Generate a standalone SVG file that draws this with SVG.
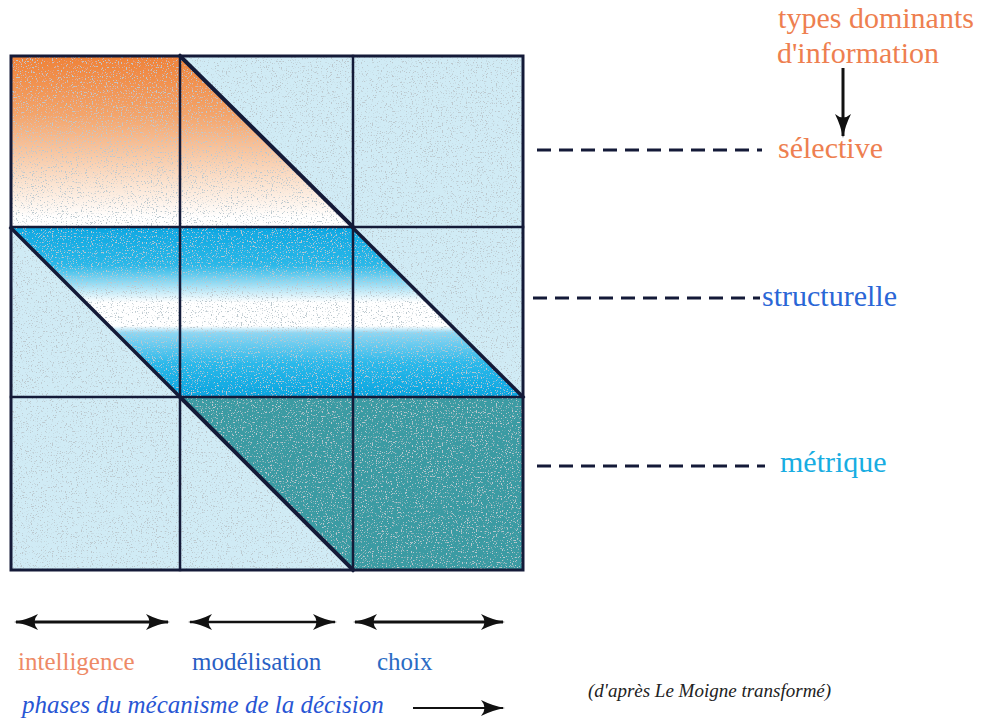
<svg xmlns="http://www.w3.org/2000/svg" width="989" height="724" viewBox="0 0 989 724">
<defs>
<linearGradient id="gOrange" x1="0" y1="56" x2="0" y2="226" gradientUnits="userSpaceOnUse">
<stop offset="0" stop-color="#ef8238"/>
<stop offset="0.35" stop-color="#f3a56c"/>
<stop offset="0.75" stop-color="#fbe3d0"/>
<stop offset="0.95" stop-color="#ffffff"/>
</linearGradient>
<linearGradient id="gBlue" x1="0" y1="228" x2="0" y2="397" gradientUnits="userSpaceOnUse">
<stop offset="0" stop-color="#0ea8e2"/>
<stop offset="0.22" stop-color="#2bb8e8"/>
<stop offset="0.38" stop-color="#c9ecf8"/>
<stop offset="0.44" stop-color="#ffffff"/>
<stop offset="0.58" stop-color="#ffffff"/>
<stop offset="0.62" stop-color="#8fd6f2"/>
<stop offset="0.8" stop-color="#2cb9ea"/>
<stop offset="1" stop-color="#07a5e0"/>
</linearGradient>
<filter id="grain" x="0" y="0" width="100%" height="100%">
<feTurbulence type="fractalNoise" baseFrequency="0.8" numOctaves="2" seed="7" result="n"/>
<feColorMatrix in="n" type="matrix" values="0 0 0 0 0.5  0 0 0 0 0.58  0 0 0 0 0.62  0 0 0 -9 3.5" result="dots"/>
<feComposite in="dots" in2="SourceGraphic" operator="in" result="d2"/>
<feMerge><feMergeNode in="SourceGraphic"/><feMergeNode in="d2"/></feMerge>
</filter>
<marker id="ah" viewBox="0 0 24 16" refX="22" refY="8" markerWidth="24" markerHeight="16" markerUnits="userSpaceOnUse" orient="auto-start-reverse">
<path d="M0,0 Q12,6 24,8 Q12,10 0,16 Q7,8 0,0 Z" fill="#111"/>
</marker>
<style>
.grid{stroke:#141a38;fill:none;stroke-linecap:square}
.dash{stroke:#141a38;stroke-width:3;stroke-dasharray:14 8;fill:none}
.light{fill:#d0ebf5}
.teal{fill:#3a9ba3}
text{font-family:Liberation Serif, DejaVu Serif, serif}
</style>
</defs>
<rect width="989" height="724" fill="#ffffff"/>

<g id="grid-fills" filter="url(#grain)">
<rect class="light" x="11" y="56" width="512" height="514"/>
<rect x="11" y="56" width="169" height="171" fill="url(#gOrange)"/>
<polygon points="180,56 353,227 180,227" fill="url(#gOrange)"/>
<polygon points="11,228 353,228 523,397 180,397" fill="url(#gBlue)"/>
<polygon points="180,397 523,397 523,570 353,570" class="teal"/>
</g>

<g id="grid-lines">
<rect class="grid" x="11" y="56" width="512" height="514" stroke-width="3"/>
<line class="grid" x1="180" y1="56" x2="180" y2="570" stroke-width="2.5"/>
<line class="grid" x1="353" y1="56" x2="353" y2="570" stroke-width="2.5"/>
<line class="grid" x1="11" y1="227" x2="523" y2="227" stroke-width="2.5"/>
<line class="grid" x1="11" y1="397" x2="523" y2="397" stroke-width="2.5"/>
<line class="grid" x1="180" y1="56" x2="353" y2="227" stroke-width="4"/>
<line class="grid" x1="11" y1="228" x2="180" y2="397" stroke-width="3.5"/>
<line class="grid" x1="353" y1="228" x2="523" y2="397" stroke-width="3.5"/>
<line class="grid" x1="180" y1="397" x2="353" y2="570" stroke-width="4"/>
</g>

<g id="connectors">
<line class="dash" x1="537" y1="150" x2="762" y2="150"/>
<line class="dash" x1="533" y1="298" x2="760" y2="298"/>
<line class="dash" x1="537" y1="466" x2="765" y2="466"/>
<line x1="843" y1="68" x2="843" y2="136" stroke="#111" stroke-width="3" marker-end="url(#ah)"/>
<line x1="16" y1="622" x2="168" y2="622" stroke="#111" stroke-width="3" marker-start="url(#ah)" marker-end="url(#ah)"/>
<line x1="190" y1="622" x2="335" y2="622" stroke="#111" stroke-width="2.5" marker-start="url(#ah)" marker-end="url(#ah)"/>
<line x1="355" y1="622" x2="503" y2="622" stroke="#111" stroke-width="3" marker-start="url(#ah)" marker-end="url(#ah)"/>
<line x1="413" y1="708" x2="503" y2="708" stroke="#111" stroke-width="2" marker-end="url(#ah)"/>
</g>

<g id="label-types" font-size="30" fill="#ee7f50">
<text x="876" y="28" text-anchor="middle">types dominants</text>
<text x="858" y="63" text-anchor="middle">d'information</text>
</g>
<g id="label-selective"><text x="778" y="158" font-size="30" fill="#ee7f50">sélective</text></g>
<g id="label-structurelle"><text x="762" y="306" font-size="30" fill="#2a66d6">structurelle</text></g>
<g id="label-metrique"><text x="780" y="472" font-size="30" fill="#18ade2">métrique</text></g>

<g id="label-intelligence"><text x="18" y="670" font-size="25" fill="#ee8a66">intelligence</text></g>
<g id="label-modelisation"><text x="192" y="670" font-size="25" fill="#2a5fc4">modélisation</text></g>
<g id="label-choix"><text x="377" y="670" font-size="25" fill="#2a6cc4">choix</text></g>
<g id="label-phases"><text x="22" y="713" font-size="25" font-style="italic" fill="#2856d4">phases du mécanisme de la décision</text></g>
<g id="label-source"><text x="588" y="697" font-size="19" font-style="italic" fill="#222">(d'après Le Moigne transformé)</text></g>
</svg>
